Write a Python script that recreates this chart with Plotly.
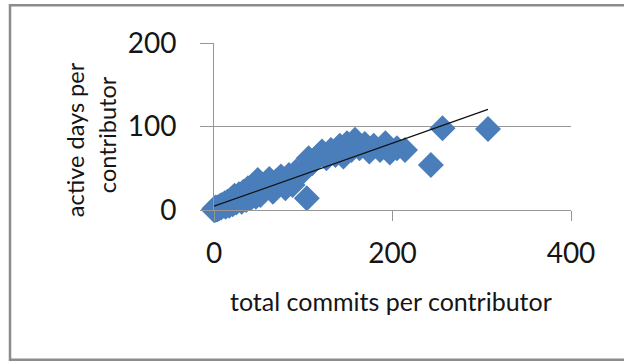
import numpy as np
import plotly.graph_objects as go

# Per-contributor activity: total commits vs. days with at least one commit
commits = [0, 1, 1, 2, 2, 3, 4, 5, 6, 7, 8, 9, 10,
           0, 1, 2, 3, 4, 6,
           12, 13, 15, 17, 19, 21, 23, 25, 28,
           31, 33, 36, 38, 41, 44, 47, 49, 52,
           57, 62, 66, 70, 75, 80, 84, 88, 92, 98,
           104, 106, 110, 116, 121, 126, 131, 136, 141, 145, 149,
           154, 158, 163, 169, 174, 179, 186, 192, 197, 205, 214,
           243, 256, 307]
active_days = [1, 1, 2, 1, 3, 2, 3, 2, 4, 5, 3, 6, 5,
               0, 0, 1, 1, 1, 2,
               8, 4, 10, 5, 13, 7, 17, 9, 19,
               10, 22, 12, 26, 14, 30, 16, 36, 18,
               31, 37, 22, 35, 40, 26, 42, 30, 46, 44,
               14, 62, 56, 64, 70, 62, 72, 66, 77, 64, 80,
               72, 84, 74, 79, 70, 77, 72, 80, 69, 74, 72,
               54, 98, 97]

x_ticks = [0, 200, 400]
y_ticks = [0, 100, 200]
x_title = "total commits per contributor"
y_title_lines = ["active days per", "contributor"]

# Linear trend line over the observed commit range
slope, intercept = np.polyfit(commits, active_days, 1)
trend_x = np.array([min(commits), max(commits)])
trend_y = slope * trend_x + intercept

FONT = "Lato, Carlito, Calibri, sans-serif"
GREY = "#969696"
BLUE = "#4A7EBB"
TEXT = "#151515"

# Plot-area geometry in pixels
W, H = 624, 363
L, R, T, B = 214, 53, 42.7, 153
pw, ph = W - L - R, H - T - B


def px_to_paper(px, py):
    return (px - L) / pw, (H - B - py) / ph


fig = go.Figure()
fig.add_trace(go.Scatter(
    x=commits, y=active_days, mode="markers",
    marker=dict(symbol="diamond", size=20, color=BLUE, line=dict(width=0)),
    cliponaxis=False, showlegend=False, hoverinfo="x+y",
))
fig.add_trace(go.Scatter(
    x=trend_x, y=trend_y, mode="lines",
    line=dict(color="#111111", width=1.3),
    cliponaxis=False, showlegend=False, hoverinfo="skip",
))

fig.update_xaxes(
    range=[0, 400], tickvals=x_ticks, ticktext=[str(v) for v in x_ticks],
    showgrid=False, zeroline=False,
    showline=True, linecolor=GREY, linewidth=1,
    ticks="outside", ticklen=10, tickcolor=GREY, tickwidth=1,
    tickfont=dict(family=FONT, size=28, color=TEXT),
    ticklabelstandoff=8, automargin=False,
)
fig.update_yaxes(
    range=[0, 200], tickvals=y_ticks, ticktext=[str(v) for v in y_ticks],
    showgrid=True, gridcolor=GREY, gridwidth=1, zeroline=False,
    showline=True, linecolor=GREY, linewidth=1,
    ticks="outside", ticklen=13, tickcolor=GREY, tickwidth=1,
    tickfont=dict(family=FONT, size=28, color=TEXT),
    ticklabelstandoff=18, automargin=False,
)

annotations = []
ax, ay = px_to_paper(391, 301)
annotations.append(dict(
    text=x_title, xref="paper", yref="paper", x=ax, y=ay,
    xanchor="center", yanchor="middle", showarrow=False,
    font=dict(family=FONT, size=25, color=TEXT),
))
for cx, cy, line in [(75, 140, y_title_lines[0]), (107, 135, y_title_lines[1])]:
    tx, ty = px_to_paper(cx, cy)
    annotations.append(dict(
        text=line, xref="paper", yref="paper", x=tx, y=ty, textangle=-90,
        xanchor="center", yanchor="middle", showarrow=False,
        font=dict(family=FONT, size=23.5, color=TEXT),
    ))

x0, y0 = px_to_paper(10, 360)
x1, y1 = px_to_paper(630, 5)
fig.add_shape(type="rect", xref="paper", yref="paper", x0=x0, y0=y0, x1=x1, y1=y1,
              line=dict(color="#8C8C8C", width=2.5), layer="below")

fig.update_layout(
    width=W, height=H, autosize=False,
    margin=dict(l=L, r=R, t=T, b=B, pad=0),
    paper_bgcolor="white", plot_bgcolor="white",
    annotations=annotations,
    font=dict(family=FONT),
)

fig.write_html("out.html")
